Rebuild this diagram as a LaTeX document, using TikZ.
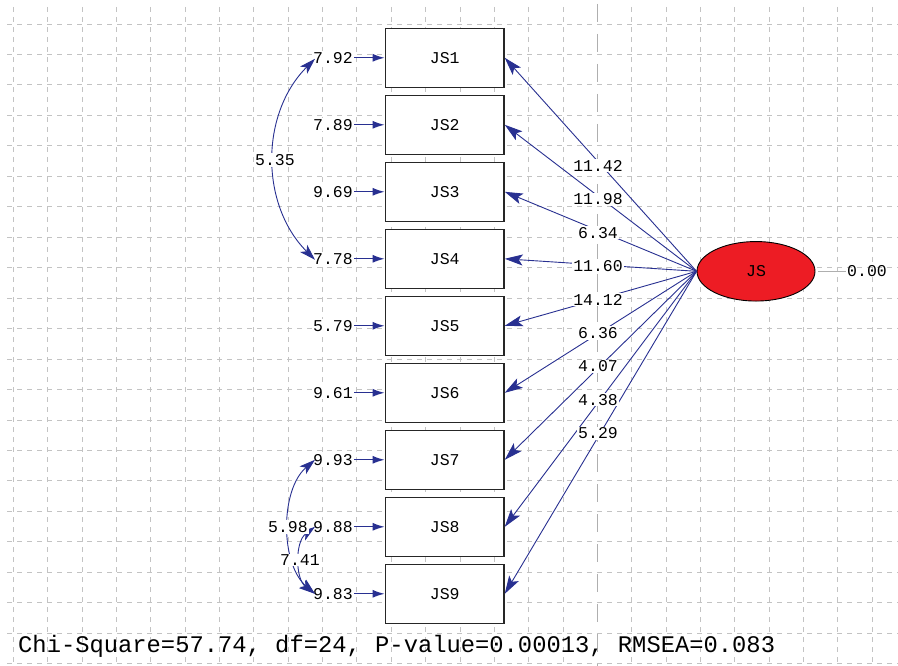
\documentclass[tikz,border=0pt]{standalone}
\usepackage{fontspec}
\setmonofont{Liberation Mono}
\usetikzlibrary{arrows.meta,shapes.geometric}
\definecolor{navy}{RGB}{40,48,145}
\definecolor{gridgray}{RGB}{195,195,195}
\definecolor{midgray}{RGB}{175,175,175}
\definecolor{jsred}{RGB}{237,28,36}
\begin{document}
\begin{tikzpicture}[x=1pt,y=-1pt,
  gridline/.style={gridgray, line width=0.9pt, dash pattern=on 5pt off 5pt},
  axisline/.style={midgray, line width=1.1pt, dash pattern=on 18pt off 12pt},
  txt/.style={font=\ttfamily\fontsize{16.5}{16.5}\selectfont},
  lab/.style={txt, fill=white, inner sep=1pt},
  obs/.style={txt, draw=black!85, line width=1.4pt, fill=white, minimum width=118.7pt, minimum height=59pt, inner sep=0pt},
  latent/.style={txt, ellipse, draw=black, line width=0.9pt, fill=jsred, minimum width=118pt, minimum height=59.5pt, inner sep=0pt},
  load/.style={navy, line width=0.9pt, -{Stealth[length=18pt,width=11pt,inset=4pt]}},
  err/.style={navy, line width=1.3pt, -{Latex[length=12pt,width=8pt]}},
  cov/.style={navy, line width=0.9pt, {Stealth[length=16pt,width=10pt,inset=4pt]}-{Stealth[length=16pt,width=10pt,inset=4pt]}}
]
\useasboundingbox (0,0) rectangle (898,666);
\fill[white] (0,0) rectangle (898,666);
% grid
\foreach \k in {0,...,25}{
  \ifnum\k=17\relax\else
  \draw[gridline] ({13.3+34.36*\k},7) -- ({13.3+34.36*\k},666);
  \fi}
\foreach \k in {0,...,21}{
  \draw[gridline] (7,{24+30.46*\k}) -- (898,{24+30.46*\k});}
\draw[axisline] (597.5,4) -- (597.5,666);

% latent
\node[latent] (js) at (756,271.3) {JS};
\node[txt, anchor=west, inner sep=1pt] (v) at (846,271.3) {0.00};
\draw[midgray, line width=0.9pt] ([xshift=3pt]js.east) -- (v.west);

% observed boxes and errors
\foreach \i/\e in {1/7.92,2/7.89,3/9.69,4/7.78,5/5.79,6/9.61,7/9.93,8/9.88,9/9.83}{
  \node[obs] (b\i) at (444.7,{57.8+67*(\i-1)}) {JS\i};
  \node[lab] (e\i) at (333,{57.8+67*(\i-1)}) {\e};
  \draw[err] (e\i.east) -- (b\i.west);
  \draw[load] (js.west) -- (b\i.east);
}
% loading labels
\foreach \i/\l in {1/11.42,2/11.98,3/6.34,4/11.60,5/14.12,6/6.36,7/4.07,8/4.38,9/5.29}{
  \node[lab] (l\i) at (598,{165.7+33.45*(\i-1)}) {\l};
}
% covariances
\draw[cov] ([shift={(3pt,-1pt)}]e1.west) .. controls +(-55,55) and +(-55,-55) .. ([shift={(3pt,-1pt)}]e4.west);
\node[lab] (c14) at (275,160) {5.35};
\draw[cov] ([shift={(3pt,0pt)}]e7.west) .. controls +(-35,30) and +(-35,-30) .. ([shift={(3pt,0pt)}]e9.west);
\draw[cov] ([shift={(3pt,0pt)}]e8.west) .. controls +(-20,15) and +(-20,-15) .. ([shift={(3pt,0pt)}]e9.west);
\node[lab] (c79) at (288,527) {5.98};
\node[lab] (c89) at (300,560) {7.41};

% fit statistics
\node[font=\ttfamily\fontsize{23.8}{23.8}\selectfont, anchor=base west, inner sep=0pt] (fit) at (18,652) {Chi-Square=57.74, df=24, P-value=0.00013, RMSEA=0.083};
\end{tikzpicture}
\end{document}
